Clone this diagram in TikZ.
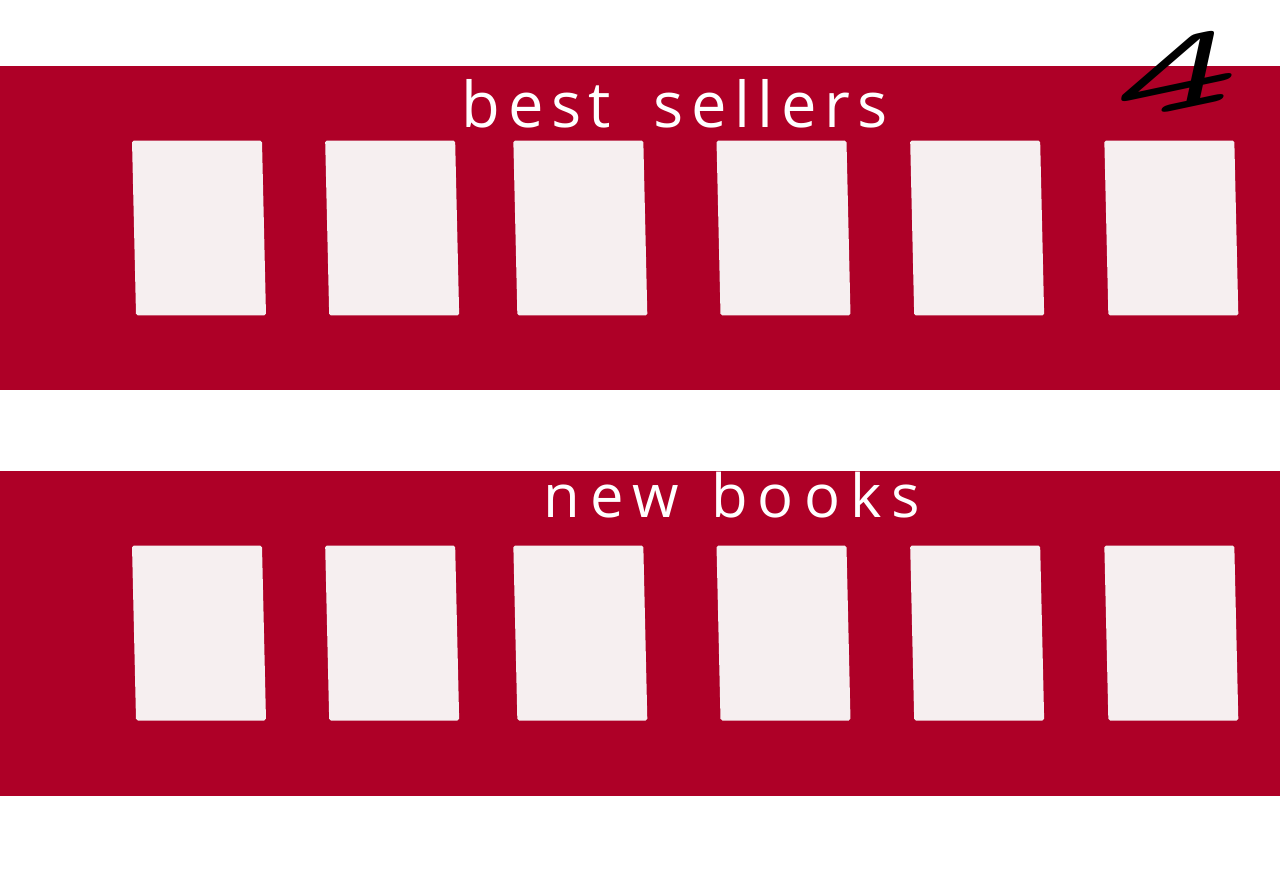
\documentclass[tikz,border=0pt]{standalone}
\usepackage{fontspec}
\setmainfont{Open Sans}
\newfontfamily\handA[LetterSpace=12]{Open Sans}
\newfontfamily\handB[LetterSpace=17]{Open Sans}
\usetikzlibrary{positioning}
\definecolor{shelf}{HTML}{AE0027}
\definecolor{paper}{HTML}{F6EFF0}

\begin{document}
\begin{tikzpicture}[x=0.02cm, y=-0.02cm, node distance=1.3cm,
  band/.style={fill=shelf, minimum width=25.6cm, minimum height=6.5cm, inner sep=0pt},
  book/.style={fill=paper, rounded corners=1pt, minimum width=2.6cm, minimum height=3.5cm, inner sep=0pt, xslant=-0.023},
  hand/.style={text=white, inner sep=0pt, anchor=base}]
\fill[white] (0,0) rectangle (1280,894);
\useasboundingbox (0,0) rectangle (1280,894);
% shelves
\node[band] (top) at (640,228) {};
\node[band] (bottom) at (640,633.5) {};
% best sellers
\node[hand, font=\handA\fontsize{36}{36}\selectfont] (bsname) at (675,127) {best\hspace{24pt}sellers};
\node[book] (bs1) at (199,228) {};
\node[book, right=1.25cm of bs1] (bs2) {};
\node[book, right=1.15cm of bs2] (bs3) {};
\node[book, right=1.45cm of bs3] (bs4) {};
\node[book, right=1.26cm of bs4] (bs5) {};
\node[book, right=1.27cm of bs5] (bs6) {};
% new books
\node[hand, font=\handB\fontsize{34}{34}\selectfont] (nbname) at (732,517) {new\hspace{18pt}books};
\node[book] (nb1) at (199,633) {};
\node[book, right=1.25cm of nb1] (nb2) {};
\node[book, right=1.15cm of nb2] (nb3) {};
\node[book, right=1.45cm of nb3] (nb4) {};
\node[book, right=1.26cm of nb4] (nb5) {};
\node[book, right=1.27cm of nb5] (nb6) {};
% page number
\node[font=\ttfamily\fontsize{64}{64}\selectfont, inner sep=0pt, rotate=12, xslant=0.45, xscale=2.2] (page) at (1180,74) {4};
\end{tikzpicture}
\end{document}
